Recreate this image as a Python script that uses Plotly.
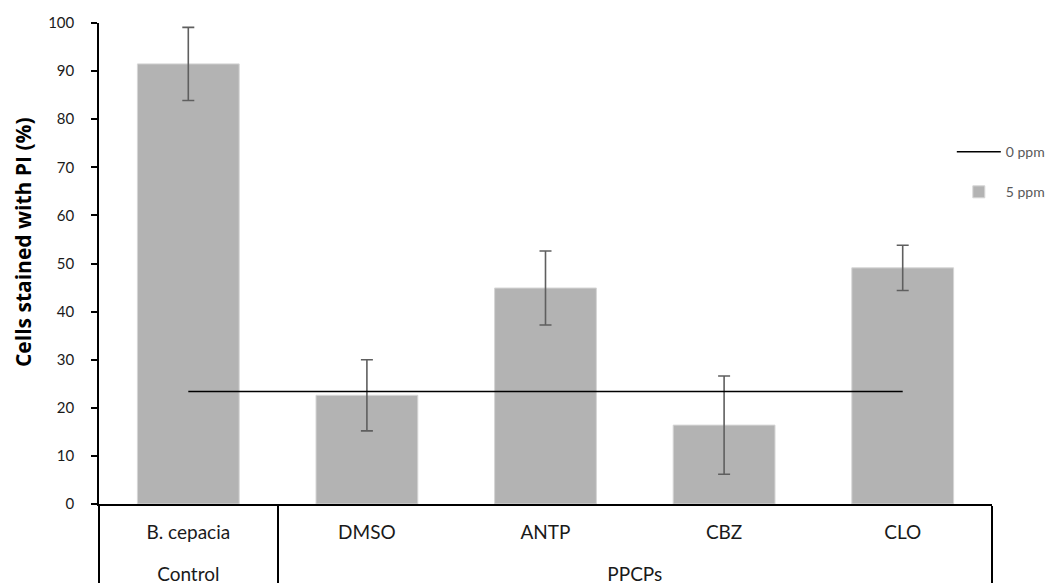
import plotly.graph_objects as go

groups = ["Control", "PPCPs", "PPCPs", "PPCPs", "PPCPs"]
categories = ["B. cepacia", "DMSO", "ANTP", "CBZ", "CLO"]
values_5ppm = [91.5, 22.6, 44.9, 16.4, 49.1]
errors_5ppm = [7.6, 7.4, 7.7, 10.2, 4.7]
values_0ppm = [23.4, 23.4, 23.4, 23.4, 23.4]
y_ticks = [0, 10, 20, 30, 40, 50, 60, 70, 80, 90, 100]

FONT = "Lato, 'Open Sans', sans-serif"

# label text inside a taller line box, padded with a blank line,
# to reproduce the table-like spacing of the two category rows
def lbl(s):
    return "<span style='font-size:19px'>" + s + "</span>"

cat_labels = [lbl(c) + "<br>&nbsp;" for c in categories]
group_labels = [lbl(g) for g in groups]

fig = go.Figure()
fig.add_trace(go.Scatter(
    x=[group_labels, cat_labels], y=values_0ppm, name="0 ppm", mode="lines",
    line=dict(color="black", width=1.5), showlegend=True, legendgroup="a",
))
fig.add_trace(go.Bar(
    x=[group_labels, cat_labels], y=values_5ppm, name="5 ppm", legendgroup="b",
    marker=dict(color="#b3b3b3", line=dict(color="#d6d6d6", width=1)),
    width=0.57,
    error_y=dict(type="data", array=errors_5ppm, color="#5f5f5f", thickness=1.6, width=6),
))

fig.update_layout(
    width=1064, height=583,
    margin=dict(l=90.5, r=80, t=15, b=86.5, autoexpand=False),
    paper_bgcolor="white", plot_bgcolor="white",
    font=dict(family=FONT, size=14, color="#1a1a1a"),
    showlegend=True,
    legend=dict(x=0.955, y=0.765, xanchor="left", yanchor="top",
                bgcolor="rgba(0,0,0,0)", font=dict(size=14, color="#595959"),
                itemwidth=44, traceorder="grouped", tracegroupgap=19),
    bargap=0.43,
    annotations=[dict(
        text="<b>Cells stained with PI (%)</b>", textangle=-90,
        xref="paper", yref="paper", x=0, y=0.5 + 21 / 481.5,
        xanchor="center", yanchor="middle", xshift=-76.5, showarrow=False,
        font=dict(family="'Open Sans', sans-serif", size=21, color="black"),
    )],
)
fig.update_xaxes(
    type="multicategory", showline=True, linecolor="black", linewidth=1.5,
    showdividers=True, dividercolor="black", dividerwidth=1.5,
    ticks="", tickfont=dict(size=20, color="#1a1a1a"), ticklabelstandoff=9,
    showgrid=False, zeroline=False, automargin=False,
)
fig.update_yaxes(
    range=[0, 100], tickvals=y_ticks, showline=True, linecolor="black", linewidth=1.5,
    ticks="outside", ticklen=6, tickcolor="black", tickwidth=1.5,
    ticklabelstandoff=14,
    showgrid=False, zeroline=False, automargin=False,
    tickfont=dict(size=15, color="#1a1a1a"),
)

fig.write_html("out.html")
